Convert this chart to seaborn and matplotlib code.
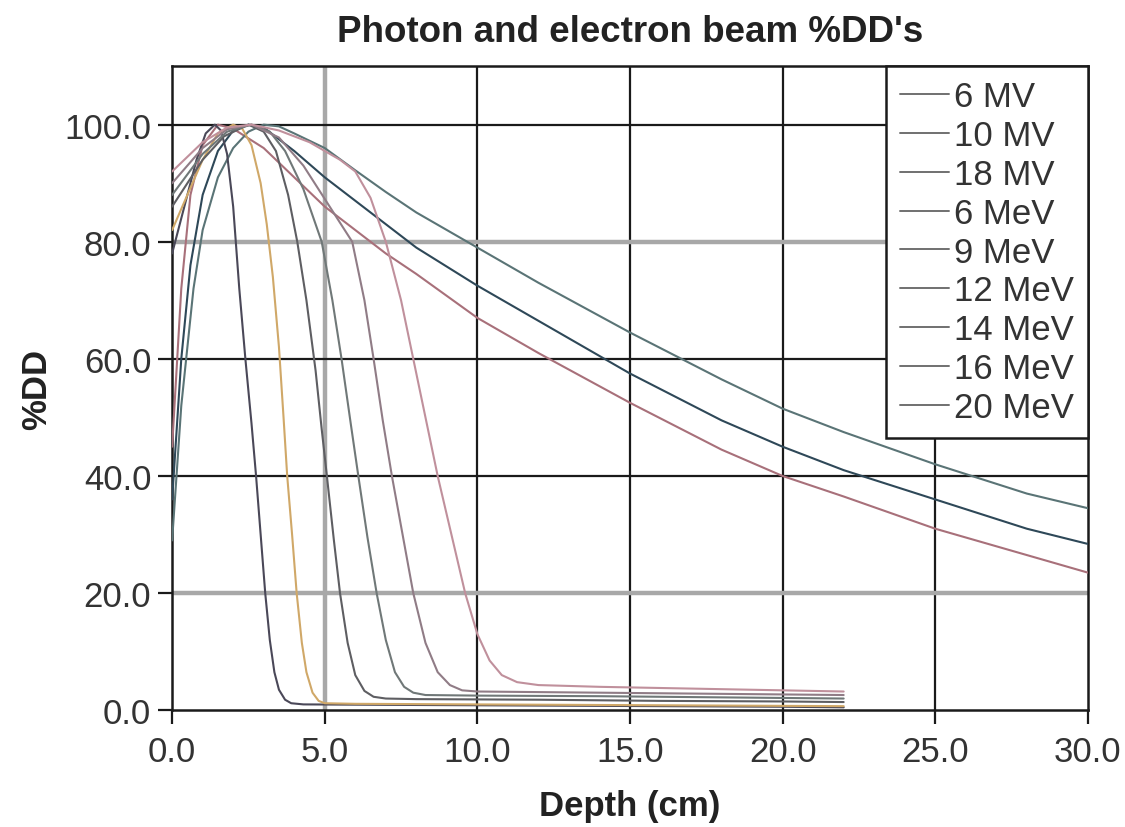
import pandas as pd
import matplotlib.pyplot as plt
import seaborn as sns

# profundidades (cm) y %DD
x_6mv = [0, 0.3, 0.6, 1.0, 1.5, 2, 3, 4, 5, 6, 7, 8, 10, 12, 15, 18, 20, 22, 25, 28, 30]
y_6mv = [45, 72, 88, 96.5, 100, 99.3, 96, 91, 86, 82, 78, 74.5, 67, 61, 52.5, 44.5, 40, 36.5, 31, 26.5, 23.5]

x_10mv = [0, 0.3, 0.6, 1.0, 1.5, 2, 2.5, 3, 4, 5, 6, 7, 8, 10, 12, 15, 18, 20, 22, 25, 28, 30]
y_10mv = [36, 60, 76, 88, 95.5, 99, 100, 99.5, 95.5, 91, 87, 83, 79, 72.5, 66.5, 57.5, 49.5, 45, 41, 36, 31, 28.4]

x_18mv = [0, 0.3, 0.7, 1.0, 1.5, 2, 2.5, 3, 3.5, 4, 5, 6, 7, 8, 10, 12, 15, 18, 20, 22, 25, 28, 30]
y_18mv = [29, 52, 72, 82, 91, 96, 98.8, 100, 99.7, 98.5, 96, 92.2, 88.5, 85, 79, 73, 64.5, 56.5, 51.5, 47.5, 42, 37, 34.5]

x_6mev = [0, 0.4, 0.8, 1.1, 1.4, 1.6, 1.8, 2.0, 2.2, 2.4, 2.6, 2.75, 2.9, 3.05, 3.2, 3.35,
          3.5, 3.7, 3.9, 4.3, 8, 12, 16, 20, 22]
y_6mev = [78, 86, 94, 98.5, 100, 99, 95, 86, 72, 60, 49, 40, 30, 20, 12, 6.5,
          3.5, 1.8, 1.2, 1.0, 0.9, 0.8, 0.7, 0.6, 0.5]

x_9mev = [0, 0.5, 1.0, 1.5, 2.0, 2.3, 2.6, 2.9, 3.1, 3.3, 3.5, 3.65, 3.77, 3.93, 4.08, 4.25,
          4.4, 4.6, 4.8, 5.0, 6, 10, 14, 18, 22]
y_9mev = [82, 88, 94, 98.5, 100, 99.3, 96.5, 90, 83, 74, 62, 50, 40, 30, 20, 11.5,
          6.5, 3, 1.6, 1.2, 1.1, 1.0, 0.9, 0.8, 0.7]

x_12mev = [0, 1, 1.7, 2.5, 3.0, 3.4, 3.8, 4.1, 4.4, 4.7, 4.9, 5.07, 5.3, 5.5, 5.75, 6.0,
           6.3, 6.6, 7, 8, 12, 16, 20, 22]
y_12mev = [86, 94, 98, 100, 98.8, 95.5, 88, 80, 70, 58, 48, 40, 29, 20, 11.5, 6,
           3.3, 2.3, 2.0, 1.9, 1.8, 1.6, 1.5, 1.4]

x_14mev = [0, 1, 1.8, 2.6, 3.2, 3.7, 4.3, 4.9, 5.25, 5.55, 5.85, 6.1, 6.4, 6.7, 7.0, 7.3,
           7.6, 7.9, 8.3, 10, 14, 18, 22]
y_14mev = [88, 95, 98.8, 100, 98.8, 95.5, 89, 80, 70, 60, 49, 40, 29.5, 20, 12, 6.5,
           4, 3, 2.6, 2.5, 2.4, 2.2, 2.0]

x_16mev = [0, 1, 1.8, 2.6, 3.5, 4.3, 5.1, 5.9, 6.3, 6.6, 6.9, 7.2, 7.55, 7.9, 8.3, 8.7,
           9.1, 9.5, 10, 12, 16, 20, 22]
y_16mev = [90, 96, 99.2, 100, 97.8, 93, 86.5, 80, 70, 60, 49.5, 40, 30, 20, 11.5, 6.5,
           4.3, 3.4, 3.2, 3.1, 2.9, 2.7, 2.6]

x_20mev = [0, 1, 1.8, 2.6, 3.5, 4.5, 5.5, 6.0, 6.5, 7.0, 7.5, 7.9, 8.3, 8.7, 9.15, 9.6,
           10.0, 10.4, 10.8, 11.3, 12, 14, 18, 22]
y_20mev = [92, 97, 99.5, 100, 99, 97, 94, 92, 87.5, 80, 70, 60, 50, 40, 30, 20,
           13, 8.5, 6, 4.8, 4.3, 4.0, 3.6, 3.2]

haces = ['6 MV', '10 MV', '18 MV', '6 MeV', '9 MeV', '12 MeV', '14 MeV', '16 MeV', '20 MeV']
datos_x = [x_6mv, x_10mv, x_18mv, x_6mev, x_9mev, x_12mev, x_14mev, x_16mev, x_20mev]
datos_y = [y_6mv, y_10mv, y_18mv, y_6mev, y_9mev, y_12mev, y_14mev, y_16mev, y_20mev]

colores = ['#a8707a', '#2e4858', '#5a7476', '#4a4858', '#d0a868',
           '#5e5e62', '#707878', '#907c86', '#c0909c']

x_ticks = [0, 5, 10, 15, 20, 25, 30]
y_ticks = [0, 20, 40, 60, 80, 100]

frames = []
for haz, xs, ys in zip(haces, datos_x, datos_y):
    frames.append(pd.DataFrame({'depth': xs, 'dd': ys, 'haz': haz}))
df = pd.concat(frames, ignore_index=True)

sns.set_style('white')
plt.rcParams['font.family'] = ['Liberation Sans', 'DejaVu Sans']

fig = plt.figure(figsize=(11.25, 8.28), dpi=100)
ax = fig.add_axes([0.153, 0.141, 0.814, 0.778])

# rejilla: negra, salvo algunas lineas grises mas gruesas
for xv in x_ticks[1:-1]:
    if xv == 5:
        ax.axvline(xv, color='#a8a8a8', lw=3.2, zorder=1)
    else:
        ax.axvline(xv, color='#1a1a1a', lw=1.6, zorder=1)
for yv in y_ticks[1:]:
    if yv in (20, 80):
        ax.axhline(yv, color='#a8a8a8', lw=3.2, zorder=1)
    else:
        ax.axhline(yv, color='#1a1a1a', lw=1.6, zorder=1)

sns.lineplot(data=df, x='depth', y='dd', hue='haz', hue_order=haces,
             palette=dict(zip(haces, colores)), estimator=None, sort=False,
             linewidth=1.5, ax=ax, zorder=3)

ax.set_xlim(0, 30)
ax.set_ylim(0, 110)
ax.set_xticks(x_ticks)
ax.set_yticks(y_ticks)
ax.set_xticklabels([f'{v:.1f}' for v in x_ticks])
ax.set_yticklabels([f'{v:.1f}' for v in y_ticks])
ax.tick_params(direction='out', length=10, width=1.6, color='#1a1a1a',
               labelsize=25, labelcolor='#333333')
ax.tick_params(axis='y', left=True, pad=5)
ax.tick_params(axis='x', bottom=True, pad=8)
for s in ax.spines.values():
    s.set_color('#1a1a1a')
    s.set_linewidth(1.8)

ax.set_xlabel('Depth (cm)', fontsize=25, fontweight='bold', color='#222222', labelpad=15)
ax.set_ylabel('%DD', fontsize=25, fontweight='bold', color='#222222', labelpad=8)
ax.set_title("Photon and electron beam %DD's", fontsize=26.5, fontweight='bold',
             color='#222222', pad=18)

leg = ax.legend(loc='upper right', borderaxespad=0, fancybox=False, fontsize=25,
                handlelength=1.4, handletextpad=0.15, labelspacing=0.17,
                borderpad=0.4, framealpha=1, edgecolor='#1a1a1a')
leg.get_frame().set_linewidth(1.8)
for t in leg.get_texts():
    t.set_color('#333333')
for h in leg.get_lines():
    h.set_color('#707070')
    h.set_linewidth(1.4)

plt.savefig('out.png', dpi=100)
plt.close()
